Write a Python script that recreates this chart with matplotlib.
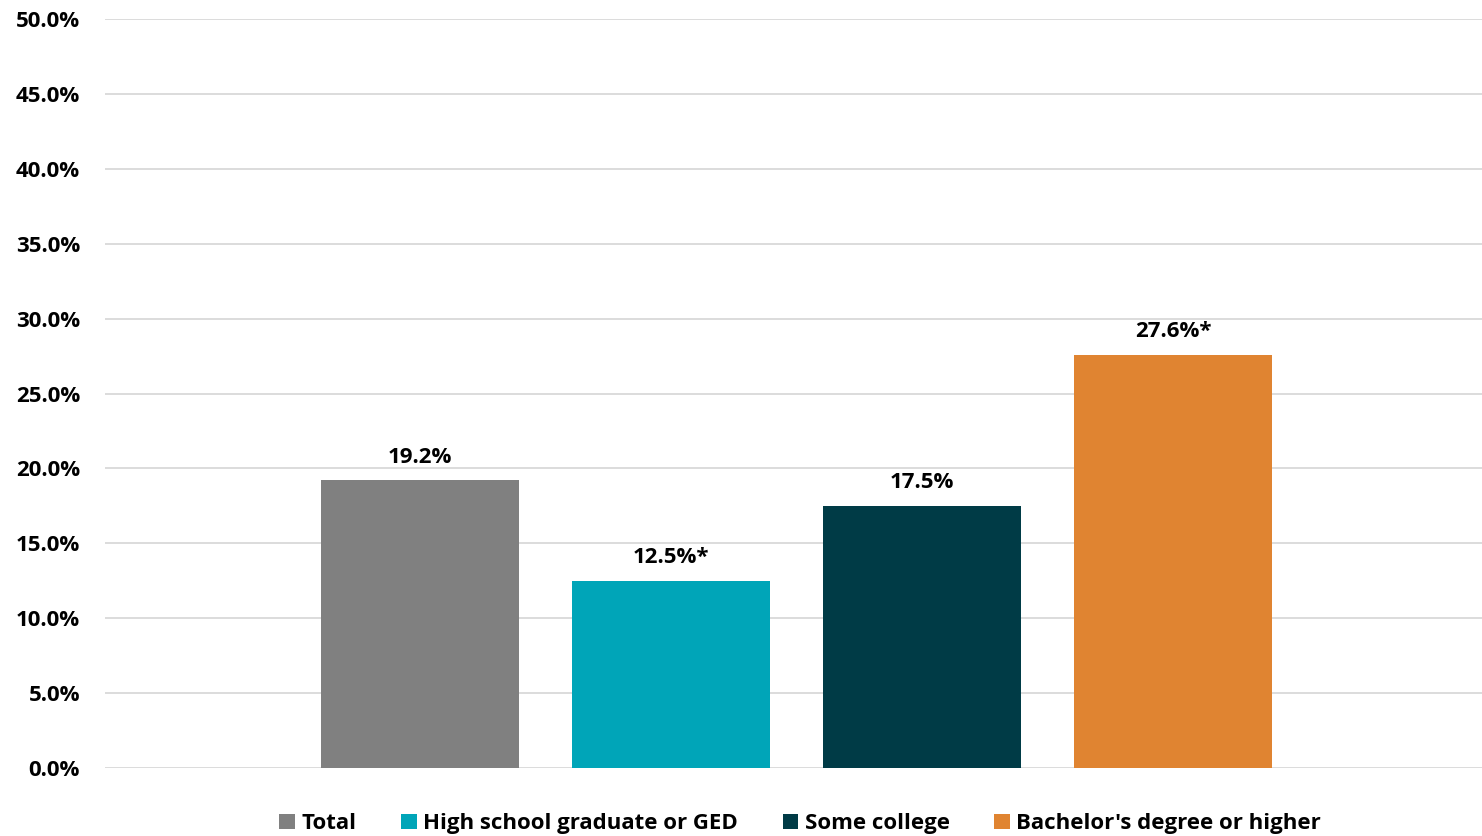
import matplotlib.pyplot as plt
from matplotlib.patches import Patch

# share of respondents by education level
groups = ["Total", "High school graduate or GED", "Some college", "Bachelor's degree or higher"]
values = [19.2, 12.5, 17.5, 27.6]
labels = ["19.2%", "12.5%*", "17.5%", "27.6%*"]
colors = ["#808080", "#00A5B8", "#003B46", "#E08431"]
yticks = [0, 5, 10, 15, 20, 25, 30, 35, 40, 45, 50]

plt.rcParams['font.family'] = ['Open Sans', 'DejaVu Sans']
plt.rcParams['font.weight'] = 'bold'

fig = plt.figure(figsize=(14.82, 8.36), dpi=100)
ax = fig.add_axes([105 / 1482, 1 - 768 / 836, 1 - 105 / 1482, (768 - 19) / 836])

xs = list(range(len(groups)))
ax.bar(xs, values, width=198 / 251, color=colors, zorder=3)
for x, v, lab in zip(xs, values, labels):
    ax.text(x, v + 0.85, lab, ha='center', va='bottom', fontsize=16, fontweight='bold', color='#000000')

ax.set_ylim(0, 50)
ax.set_xlim((105 - 420) / 251, (1482 - 420) / 251)
ax.set_yticks(yticks)
ax.set_yticklabels([f"{t:.1f}%" for t in yticks], fontsize=16, fontweight='bold')
ax.set_xticks([])
ax.tick_params(axis='y', length=0, pad=18)
ax.grid(axis='y', color='#D9D9D9', linewidth=1.3, zorder=0)
for s in ax.spines.values():
    s.set_visible(False)

handles = [Patch(facecolor=c, edgecolor='none') for c in colors]
fig.legend(handles, groups, loc='lower center', bbox_to_anchor=(0.540, -0.022), ncol=4, frameon=False,
           handlelength=0.7, handleheight=0.7, handletextpad=0.3, columnspacing=2.0,
           prop={'weight': 'bold', 'size': 16})

fig.savefig("out.png", dpi=100)
